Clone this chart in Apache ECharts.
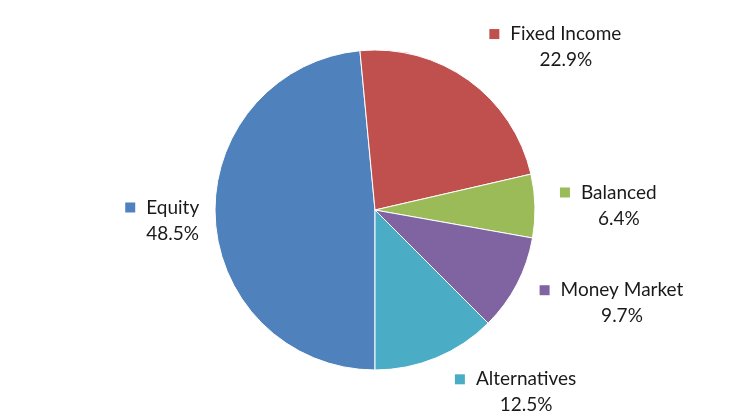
<!DOCTYPE html>
<html>
<head>
<meta charset="utf-8">
<script src="https://cdn.jsdelivr.net/npm/echarts@6/dist/echarts.min.js"></script>
<style>
  html, body { margin: 0; padding: 0; background: #fff; }
  #main { width: 751px; height: 419px; }
</style>
</head>
<body>
<div id="main"></div>
<script>
// asset allocation
var categories = ['Equity', 'Fixed Income', 'Balanced', 'Money Market', 'Alternatives'];
var shares = [48.5, 22.9, 6.4, 9.7, 12.5];
var colors = ['#4F81BD', '#C0504D', '#9BBB59', '#8064A2', '#4BACC6'];

// nudge labels to where excel put them
var labelShift = [[9, 2], [4, -17], [0, 0], [0, 10], [6, 16]];

var pieData = categories.map(function (name, i) {
  return { name: name, value: shares[i], itemStyle: { color: colors[i] } };
});

var rich = {
  t: { fontSize: 19, color: '#1a1a1a', lineHeight: 26, align: 'center' },
  gap: { width: 11, align: 'center' },
  // same width as marker + gap so the percent sits centred under the name
  pad: { width: 21, align: 'center' }
};
colors.forEach(function (c, i) {
  rich['sq' + i] = { width: 10, height: 10, backgroundColor: c, align: 'center' };
});

var myChart = echarts.init(document.getElementById('main'), null, { renderer: 'canvas' });

myChart.setOption({
  backgroundColor: '#fff',
  animation: false,
  textStyle: { fontFamily: 'Lato' },
  series: [{
    type: 'pie',
    center: [375, 210],
    radius: 160,
    startAngle: -90,
    clockwise: true,
    data: pieData,
    itemStyle: { borderColor: '#fff', borderWidth: 1 },
    label: {
      show: true,
      position: 'outside',
      formatter: function (p) {
        return '{sq' + p.dataIndex + '|}{gap|}{t|' + p.name + '}\n{pad|}{t|' + p.value.toFixed(1) + '%}';
      },
      rich: rich
    },
    labelLine: { show: false, length: 20, length2: 0 },
    labelLayout: function (p) {
      var s = labelShift[p.dataIndex];
      return { dx: s[0], dy: s[1] };
    }
  }]
});
</script>
</body>
</html>
